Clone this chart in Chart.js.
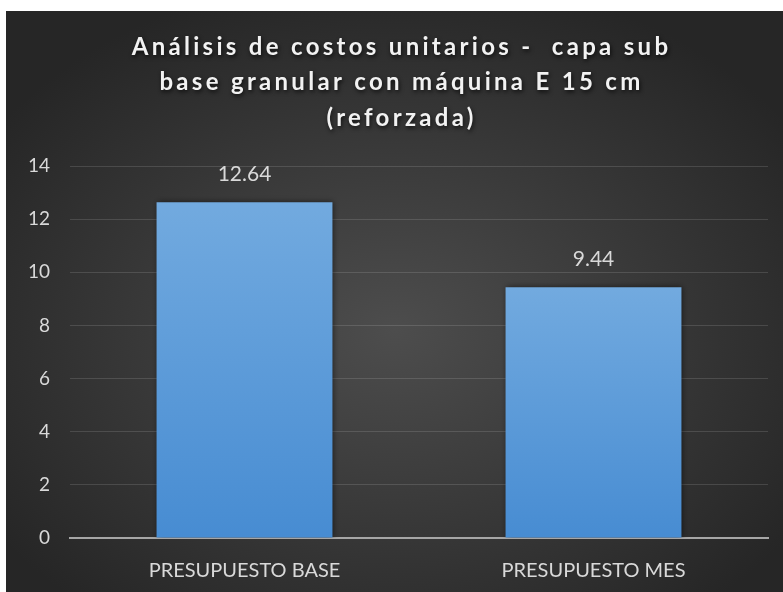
<!DOCTYPE html>
<html>
<head>
<meta charset="utf-8">
<script src="https://cdn.jsdelivr.net/npm/chart.js@4/dist/chart.umd.min.js"></script>
<style>
  html, body { margin: 0; padding: 0; background: #fff; }
  .wrap { position: absolute; left: 6px; top: 11px; width: 777px; height: 581px; }
</style>
</head>
<body>
<div class="wrap"><canvas id="costChart"></canvas></div>
<script>
const titleLines = [
  'Análisis de costos unitarios -  capa sub',
  'base granular con máquina E 15 cm',
  '(reforzada)'
];
const categories = ['PRESUPUESTO BASE', 'PRESUPUESTO MES'];
const costs = [12.64, 9.44];
const yMin = 0;
const yMax = 14;
const yStep = 2;

const textColor = '#d9d9d9';

// dark radial background like the office chart style
const backgroundPlugin = {
  id: 'bg',
  beforeDraw(chart) {
    const { ctx, width, height } = chart;
    ctx.save();
    ctx.translate(width / 2, height * 0.55);
    ctx.scale(1, height / width);
    const g = ctx.createRadialGradient(0, 0, 0, 0, 0, width * 0.62);
    g.addColorStop(0, '#4d4d4d');
    g.addColorStop(1, '#262626');
    ctx.fillStyle = g;
    ctx.fillRect(-width, -width, width * 2, width * 2);
    ctx.restore();
  }
};

const titlePlugin = {
  id: 'spacedTitle',
  afterDraw(chart) {
    const { ctx, width } = chart;
    ctx.save();
    ctx.font = 'bold 24px Lato';
    ctx.letterSpacing = '3.3px';
    ctx.fillStyle = '#f2f2f2';
    ctx.textAlign = 'center';
    ctx.textBaseline = 'middle';
    ctx.shadowColor = 'rgba(0,0,0,0.75)';
    ctx.shadowBlur = 4;
    ctx.shadowOffsetX = 1;
    ctx.shadowOffsetY = 2;
    titleLines.forEach((line, i) => {
      ctx.fillText(line, width / 2 + 7, 36 + i * 35.5);
    });
    ctx.restore();
  }
};

const valueLabels = {
  id: 'valueLabels',
  afterDatasetsDraw(chart) {
    const { ctx } = chart;
    const meta = chart.getDatasetMeta(0);
    ctx.save();
    ctx.font = '21px Lato';
    ctx.fillStyle = textColor;
    ctx.textAlign = 'center';
    ctx.textBaseline = 'middle';
    meta.data.forEach((bar, i) => {
      ctx.fillText(costs[i].toFixed(2), bar.x, bar.y - 28);
    });
    ctx.restore();
  }
};

const barShadow = {
  id: 'barShadow',
  beforeDatasetsDraw(chart) {
    const ctx = chart.ctx;
    ctx.save();
    ctx.shadowColor = 'rgba(0,0,0,0.55)';
    ctx.shadowBlur = 6;
    ctx.shadowOffsetX = 1;
    ctx.shadowOffsetY = 0;
  },
  afterDatasetsDraw(chart) {
    chart.ctx.restore();
  }
};

function barFill(context) {
  const chart = context.chart;
  const area = chart.chartArea;
  if (!area) return '#5b9bd5';
  const top = chart.scales.y.getPixelForValue(context.raw);
  const g = chart.ctx.createLinearGradient(0, top, 0, area.bottom);
  g.addColorStop(0, '#72aadf');
  g.addColorStop(1, '#478cd2');
  return g;
}

const ctx = document.getElementById('costChart').getContext('2d');
const costChart = new Chart(ctx, {
  type: 'bar',
  data: {
    labels: categories,
    datasets: [{
      data: costs,
      backgroundColor: barFill,
      borderWidth: 0,
      barPercentage: 0.504,
      categoryPercentage: 1
    }]
  },
  options: {
    responsive: true,
    maintainAspectRatio: false,
    animation: false,
    layout: { padding: { top: 155, right: 15, left: 0, bottom: 0 } },
    plugins: {
      legend: { display: false },
      title: { display: false },
      tooltip: { enabled: false }
    },
    scales: {
      x: {
        z: 1,
        grid: { display: false, drawTicks: false },
        border: { color: '#a6a6a6', width: 2 },
        ticks: {
          color: textColor,
          font: { family: 'Lato', size: 20 },
          padding: 21,
          maxRotation: 0
        },
        afterFit(scale) { scale.height = 54; }
      },
      y: {
        min: yMin,
        max: yMax,
        grid: { color: 'rgba(255,255,255,0.13)', lineWidth: 1, drawTicks: false },
        border: { display: false },
        ticks: {
          stepSize: yStep,
          color: textColor,
          font: { family: 'Lato', size: 19 },
          padding: 20
        },
        afterFit(scale) { scale.width = 64; }
      }
    }
  },
  plugins: [backgroundPlugin, barShadow, valueLabels, titlePlugin]
});
</script>
</body>
</html>
